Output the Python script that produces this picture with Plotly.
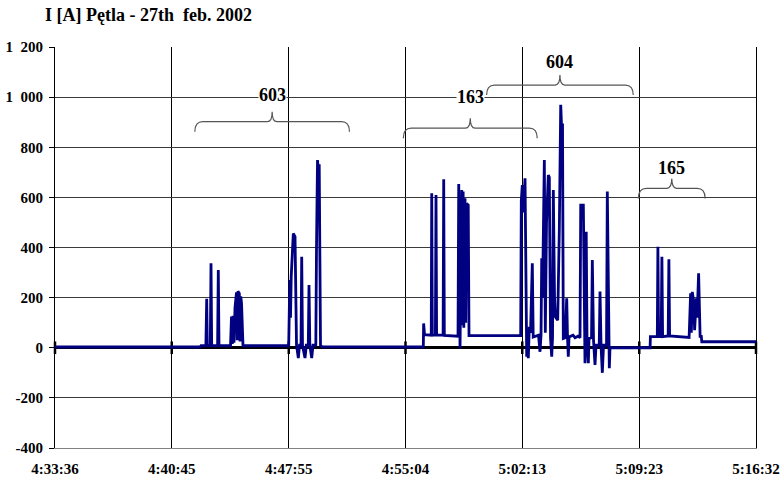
import plotly.graph_objects as go

# ---------------- data ----------------
x_tick_labels = ["4:33:36", "4:40:45", "4:47:55", "4:55:04", "5:02:13", "5:09:23", "5:16:32"]
y_tick_values = [-400, -200, 0, 200, 400, 600, 800, 1000, 1200]
y_tick_labels = ["-400", "-200", "0", "200", "400", "600", "800", "1\u2002000", "1\u2002200"]

# elapsed seconds after 4:33:36 and loop current [A]
elapsed_s = [
    0, 533, 536.5, 554.5, 557.5, 559.7, 570.7, 573.3, 575.8, 597.5, 600.1, 602.7,
    645, 648.6, 651.6, 654.1, 657.8, 661.5, 667, 669.6, 672.2, 677.3, 679.9, 682.5, 685.4, 689.1, 690.9,
    858.8, 862.9, 865.4, 868, 875.7, 882, 887.5, 894.1, 898.5, 904, 906.6, 909.5, 918.7, 923.5,
    930.8, 933.4, 936.4, 943.3, 948.1, 958.4, 961, 964.7, 968.4, 970.9, 975.7, 981.2,
    1353.5, 1354.6, 1357.9, 1382.6, 1384.4, 1386.6, 1397.9, 1400.1, 1402.3, 1426.2, 1428.4, 1430.6,
    1481, 1483.6, 1488.4, 1494.6, 1496.8, 1499.8, 1502.3, 1506.7, 1509.3, 1512.3, 1518.5, 1521.4,
    1711.3, 1713.5, 1717.2, 1720.9, 1727.2, 1729.7, 1733.4, 1736, 1739.3, 1743, 1747.4, 1754, 1757.3,
    1776.8, 1782.3, 1786, 1788.6, 1791.5, 1798.2, 1801.8, 1806.2, 1812.8, 1816.5, 1820.9, 1825.3,
    1828.3, 1831.2, 1835.6, 1838.5, 1847.3, 1853.2, 1858.4, 1862, 1865, 1867.9, 1874.9, 1880.4,
    1883.4, 1886.3, 1888.9, 1903.6, 1911, 1922, 1929.3, 1931.9, 1941.5, 1944.8, 1947.6, 1949.5,
    1952.1, 1955, 1959.9, 1962.4, 1971.6, 1974.5, 1978.9, 1984.4, 1988.1, 1999.9, 2002.8, 2006.5,
    2011.3, 2015.7, 2026.7, 2029.6, 2033.3, 2037, 2039.5,
    2186.8, 2187.9, 2213.3, 2215.5, 2218, 2227.6, 2230.2, 2232.8, 2253.3, 2255.9, 2258.5,
    2330.2, 2335.7, 2338.3, 2341.9, 2347.5, 2350.4, 2356.7, 2359.6, 2365.1, 2370.6, 2375, 2376.8, 2576,
]
current_a = [
    3, 3, 8, 8, 195, 8, 8, 337, 8, 8, 310, 8,
    8, 124, 15, 128, 20, 160, 221, 30, 225, 217, 25, 205, 178, 10, 8,
    8, 270, 120, 283, 456, 443, 10, -41, 10, 10, 363, 10, -41, 10,
    10, 250, 10, -41, 10, 10, 400, 749, 700, 732, 10, 4,
    3, 97, 52, 50, 616, 50, 50, 609, 50, 50, 672, 49,
    46, 653, -3, 629, 90, 623, 80, 596, 100, 576, 569, 48,
    48, 585, 649, 540, 676, 300, -36, 40, -42, 84, 60, 337, 43,
    50, -16, 50, 357, 200, 749, 60, 500, 689, 680, 40, -36,
    40, 629, 200, 124, 110, 470, 969, 869, 895, 37, 40, 197,
    40, -36, 43, 50, 40, 46, 40, 569, 569, 100, -62, 40,
    463, 40, -62, 37, 40, 350, 30, -69, 10, 10, 224, 10,
    -100, 10, 10, 623, 300, -82, 0,
    0, 44, 44, 403, 44, 44, 363, 44, 47, 353, 47,
    41, 217, 60, 223, 181, 70, 197, 120, 297, 45, 45, 24, 24,
]

# trip groups (vehicle numbers) and the time span they cover
group_labels = ["603", "163", "604", "165"]
group_start_s = [514, 1280, 1586, 2144]
group_end_s = [1082, 1772, 2125, 2389]


def to_sec(label):
    h, m, s = (int(v) for v in label.split(":"))
    return h * 3600 + m * 60 + s


t0 = to_sec(x_tick_labels[0])
x_tick_values = [to_sec(l) - t0 for l in x_tick_labels]

# ---------------- figure ----------------
SERIF = "Liberation Serif"
fig = go.Figure()

# small tick marks on the category axis (which crosses at 0)
fig.add_trace(go.Scatter(
    x=x_tick_values, y=[0] * len(x_tick_values), mode="markers",
    marker=dict(symbol="line-ns", size=9, line=dict(color="black", width=2.5)),
    hoverinfo="skip", showlegend=False, cliponaxis=False,
))

fig.add_trace(go.Scatter(
    x=elapsed_s, y=current_a, mode="lines",
    line=dict(color="#000080", width=2.8),
    hoverinfo="skip", showlegend=False,
))

# braces above the groups (brace layout: bottom height and label height in A)
brace_layout = [
    dict(bottom=862, text_y=1008),
    dict(bottom=836, text_y=999),
    dict(bottom=1008, text_y=1141),
    dict(bottom=596, text_y=716),
]
for lab, s0, s1, bl in zip(group_labels, group_start_s, group_end_s, brace_layout):
    y0 = bl["bottom"]
    yh = y0 + 40
    yt = yh + 40
    xc = (s0 + s1) / 2
    ex, cx = 29, 18
    path = (f"M {s0},{y0} Q {s0},{yh} {s0 + ex},{yh} L {xc - cx},{yh} "
            f"Q {xc},{yh} {xc},{yt} Q {xc},{yh} {xc + cx},{yh} "
            f"L {s1 - ex},{yh} Q {s1},{yh} {s1},{y0}")
    fig.add_shape(type="path", path=path, xref="x", yref="y",
                  line=dict(color="#555555", width=1.2))
    fig.add_annotation(x=xc, y=bl["text_y"], text=lab, showarrow=False,
                       font=dict(family=SERIF, size=18, color="black", weight="bold"),
                       bgcolor="white", borderpad=0)

fig.update_layout(
    width=784, height=482,
    margin=dict(l=55, r=28, t=47, b=34, autoexpand=False),
    paper_bgcolor="white", plot_bgcolor="white",
    title=dict(text="I [A] Pętla - 27th&nbsp;&nbsp;feb. 2002", x=45 / 784, xanchor="left",
               xref="container", y=1 - 15 / 482, yref="container", yanchor="middle",
               font=dict(family=SERIF, size=18, color="black", weight="bold")),
    hovermode=False,
)
fig.update_xaxes(
    range=[x_tick_values[0], x_tick_values[-1]],
    tickmode="array", tickvals=x_tick_values, ticktext=x_tick_labels,
    showgrid=True, gridcolor="black", gridwidth=1,
    showline=True, linecolor="#808080", linewidth=1,
    ticks="", ticklabelstandoff=7, automargin=False,
    zeroline=False,
    tickfont=dict(family=SERIF, size=15, color="black", weight="bold"),
)
fig.update_yaxes(
    range=[-400, 1200],
    tickmode="array", tickvals=y_tick_values, ticktext=y_tick_labels,
    showgrid=True, gridcolor="#3a3a3a", gridwidth=1,
    showline=True, linecolor="black", linewidth=1, mirror=True,
    ticks="outside", ticklen=5, tickcolor="black", ticklabelstandoff=3, automargin=False,
    zeroline=True, zerolinecolor="black", zerolinewidth=3,
    tickfont=dict(family=SERIF, size=15, color="black", weight="bold"),
)

fig.write_html(
    "out.html",
    config={"displayModeBar": False, "staticPlot": True},
    post_script="document.body.style.margin='0';document.body.style.overflow='hidden';",
)
